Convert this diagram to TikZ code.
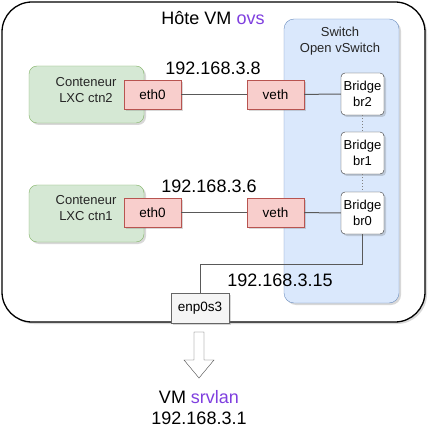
\documentclass[tikz,border=0pt]{standalone}
\usepackage{fontspec}
\setmainfont{Liberation Sans}
\usetikzlibrary{shadows}

\definecolor{ctnfill}{HTML}{D5E8D4}
\definecolor{ctnline}{HTML}{82B366}
\definecolor{ifill}{HTML}{F8CECC}
\definecolor{iline}{HTML}{B85450}
\definecolor{swfill}{HTML}{DAE8FC}
\definecolor{swline}{HTML}{6C8EBF}
\definecolor{nicfill}{HTML}{F5F5F5}
\definecolor{nicline}{HTML}{666666}
\definecolor{vmname}{HTML}{7F3FDF}

\tikzset{
  softshadow/.style={drop shadow={shadow xshift=2pt, shadow yshift=-2pt, opacity=0.25, fill=black!60}},
  container/.style={draw=ctnline, fill=ctnfill, rounded corners=8pt, minimum width=115pt, minimum height=57pt, softshadow},
  iface/.style={draw=iline, fill=ifill, minimum width=57pt, minimum height=29pt, font=\fontsize{13.5}{16}\selectfont, softshadow},
  bridge/.style={draw=black!80, fill=white, rounded corners=4pt, minimum width=43pt, minimum height=42pt, inner sep=1pt, align=center, font=\fontsize{13}{16}\selectfont, softshadow},
  nic/.style={draw=nicline, fill=nicfill, minimum width=58pt, minimum height=30pt, font=\fontsize{13.5}{16}\selectfont, softshadow},
  link/.style={draw=black!65, line width=1pt},
  ip/.style={font=\fontsize{18}{21}\selectfont},
  small/.style={font=\fontsize{13}{16}\selectfont, align=center, text=black!85}
}

\begin{document}
\begin{tikzpicture}[x=1pt, y=-1pt]
  \useasboundingbox (0,0) rectangle (428,430);

  % Host VM frame
  \draw[line width=1.3pt, rounded corners=30pt, fill=white, softshadow] (2,2) rectangle (425,322);
  \node[ip] (host) at (213,18) {Hôte VM \textcolor{vmname}{ovs}};

  % Open vSwitch area
  \draw[draw=swline, fill=swfill, rounded corners=10pt, softshadow] (284,19) rectangle (399,303);
  \node[small] (swlabel) at (340,41) {Switch\\Open vSwitch};

  % Containers
  \node[container] (ctn2) at (86.5,94.5) {};
  \node[small] (ctn2label) at (86,90) {Conteneur\\LXC ctn2};
  \node[container] (ctn1) at (86.5,213.5) {};
  \node[small] (ctn1label) at (86,208) {Conteneur\\LXC ctn1};

  % Interfaces
  \node[iface] (eth2) at (152.5,94.5) {eth0};
  \node[iface] (veth2) at (275.5,94.5) {veth};
  \node[iface] (eth1) at (152.5,212.5) {eth0};
  \node[iface] (veth1) at (275.5,212.5) {veth};

  % Bridges
  \node[bridge] (br2) at (362.5,94) {Bridge\\br2};
  \node[bridge] (br1) at (362.5,153) {Bridge\\br1};
  \node[bridge] (br0) at (362.5,213) {Bridge\\br0};

  % Physical interface
  \node[nic] (enp) at (200,308) {enp0s3};

  % Links
  \draw[link] (eth2) -- (veth2);
  \draw[link] (veth2) -- (br2);
  \draw[link] (eth1) -- (veth1);
  \draw[link] (veth1) -- (br0);
  \draw[link, dotted, black!50] (br2) -- (br1);
  \draw[link, dotted, black!50] (br1) -- (br0);
  \draw[link] (br0.south) -- ++(0,30) -| (enp.north);

  % Addresses
  \node[ip] (ip2) at (213,68) {192.168.3.8};
  \node[ip] (ip1) at (209,186) {192.168.3.6};
  \node[ip] (ipenp) at (280,280) {192.168.3.15};

  % Outgoing arrow to the LAN VM
  \draw[black!70, fill=white] (194,332) -- (204,332) -- (204,360) -- (214,360) -- (199,378) -- (184,360) -- (194,360) -- cycle;
  \node[ip] (srv) at (199,397) {VM \textcolor{vmname}{srvlan}};
  \node[ip] (ipsrv) at (199,418) {192.168.3.1};
\end{tikzpicture}
\end{document}
